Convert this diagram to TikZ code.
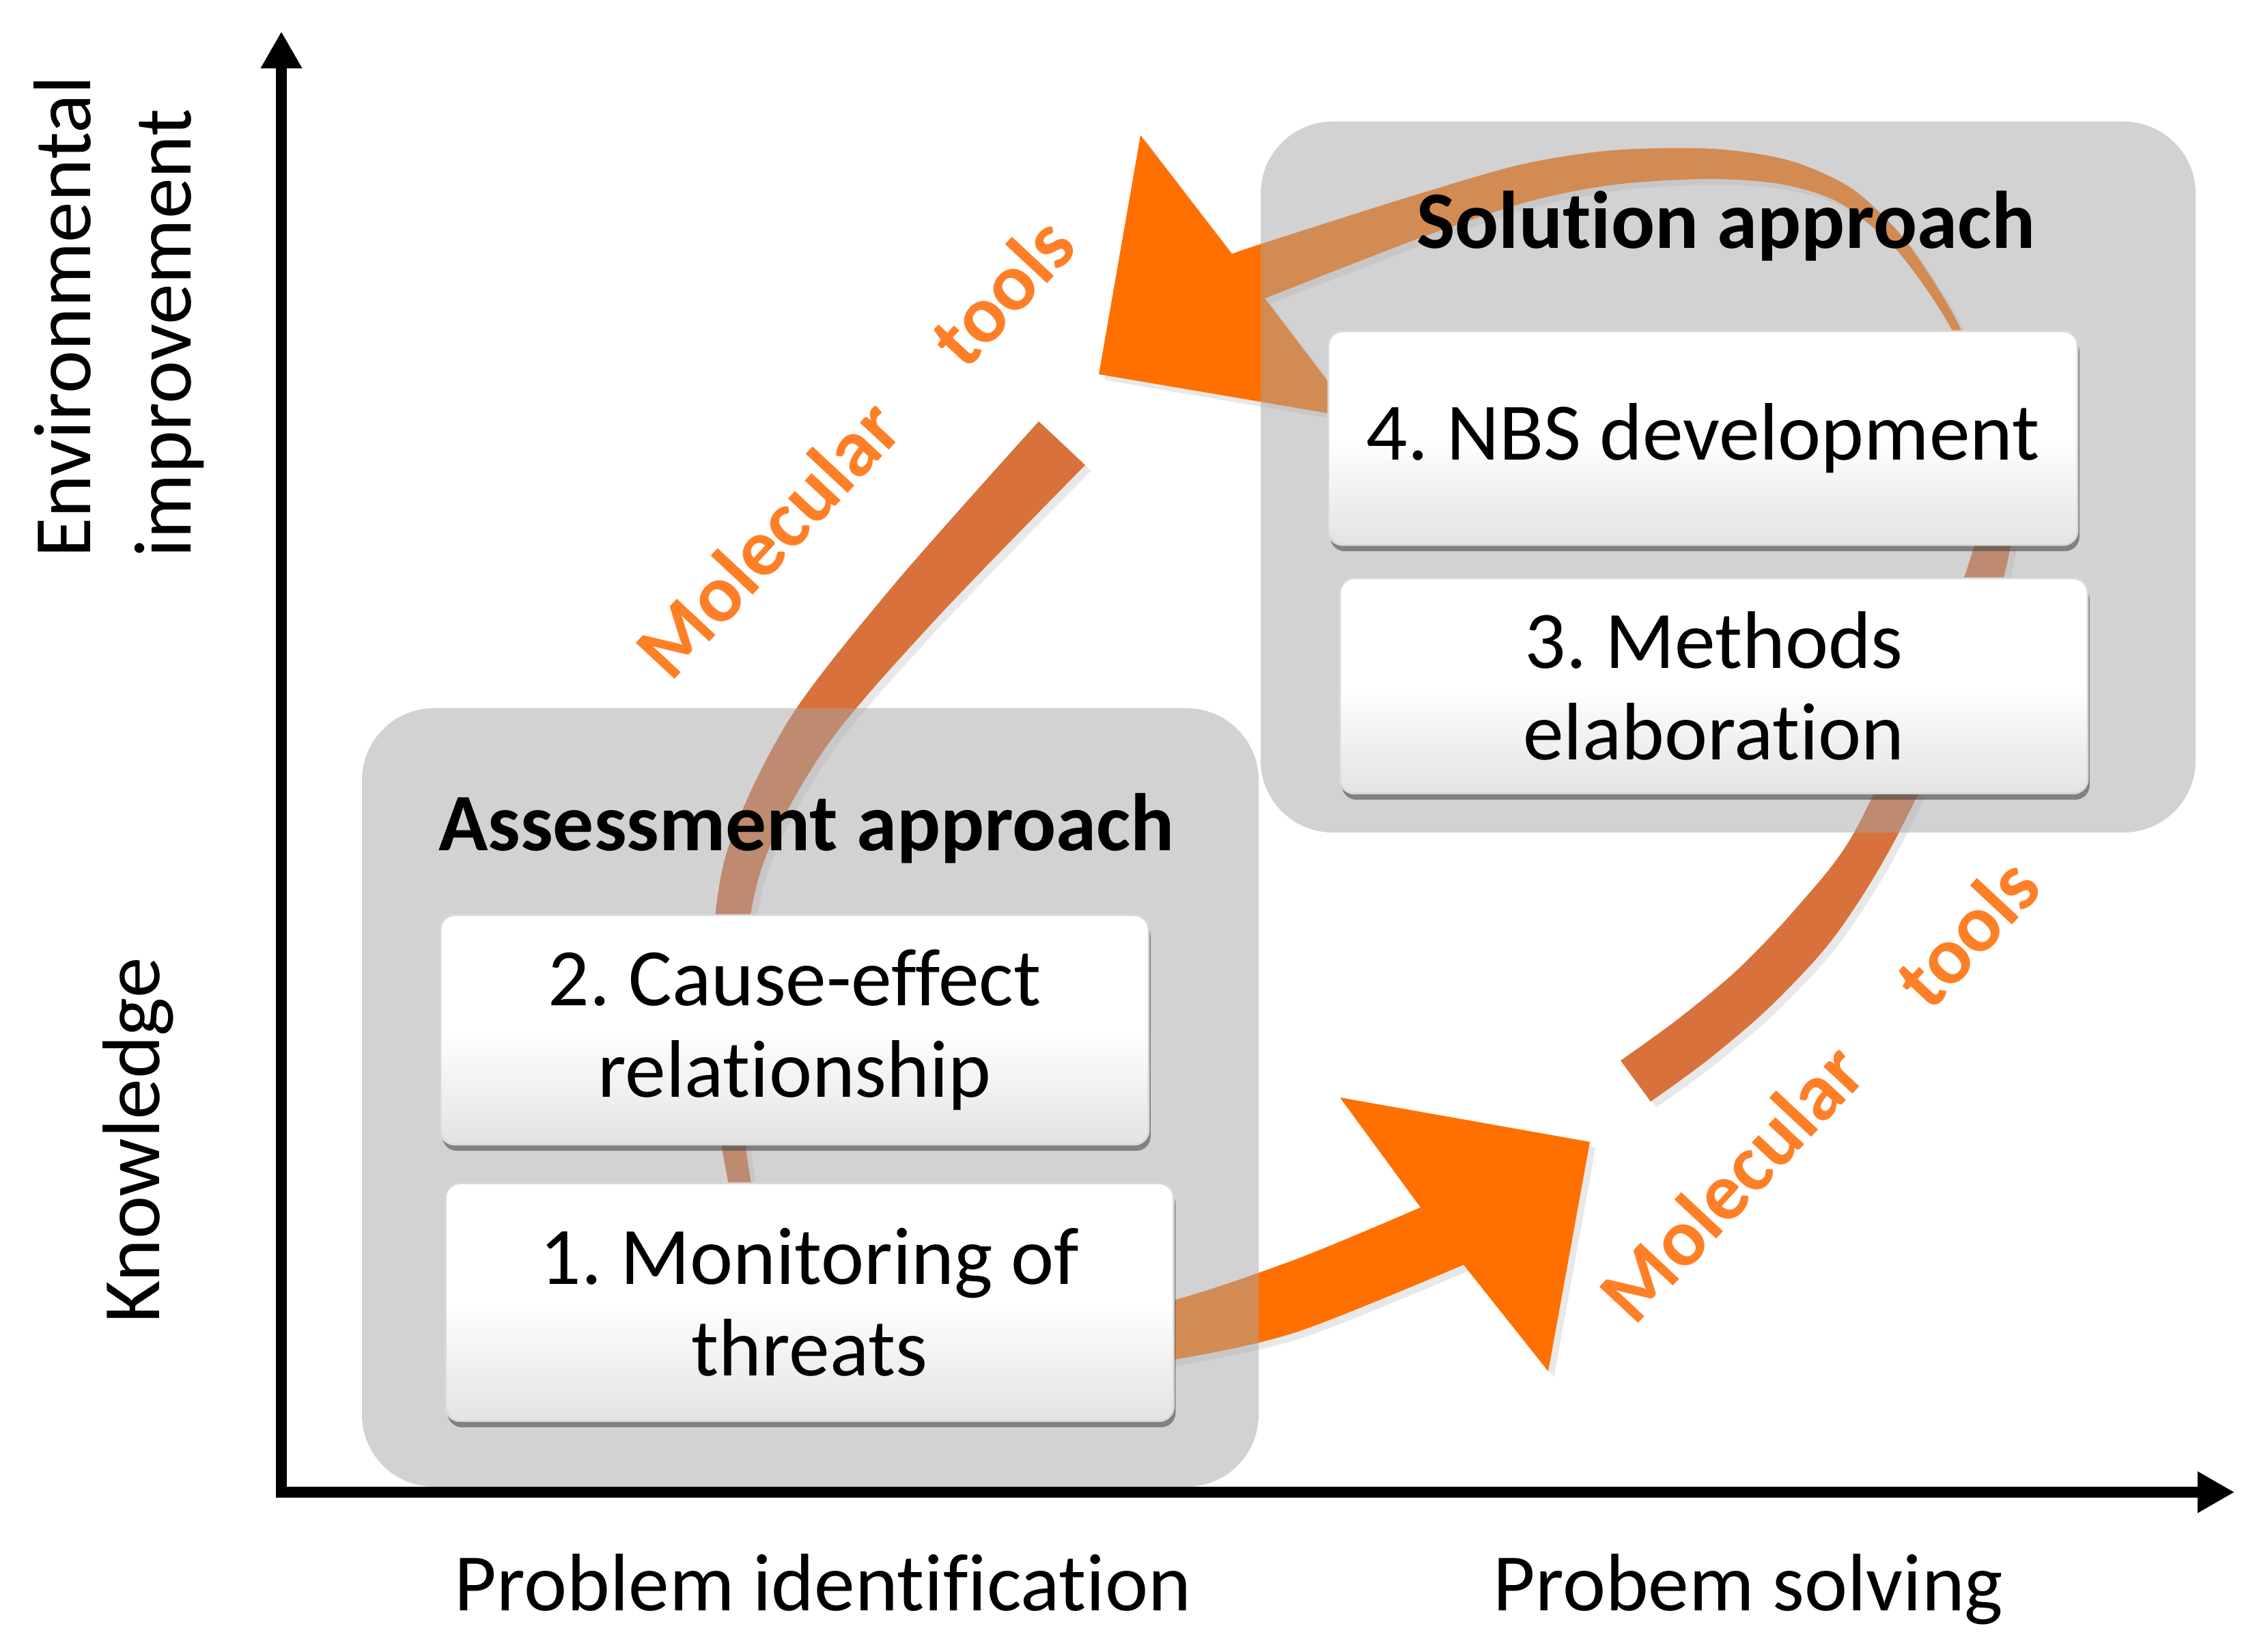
\documentclass[tikz,border=0pt]{standalone}
\usepackage{fontspec}
\setmainfont{Carlito}[Ligatures=NoCommon]
\usetikzlibrary{positioning, arrows.meta, shadows}
\frenchspacing

\definecolor{headorange}{RGB}{255,112,0}
\definecolor{arcorange}{RGB}{216,113,59}
\definecolor{toolorange}{RGB}{255,127,39}

\newcommand{\stageFont}{\fontsize{17}{19}\selectfont}

\tikzset{
  panelbox/.style={
    fill=black!35,
    fill opacity=0.5,
    rounded corners=15pt,
    inner sep=0pt,
  },
  stagebox/.style={
    draw=black!15,
    rounded corners=3pt,
    align=center,
    font=\stageFont,
    inner sep=0pt,
    top color=white, bottom color=black!11, middle color=white,
    drop shadow={shadow xshift=0.4pt, shadow yshift=-1.3pt, opacity=0.55, fill=black!75},
  },
  paneltitle/.style={font=\stageFont\bfseries, anchor=base},
  axislabel/.style={font=\stageFont, anchor=base},
  toollabel/.style={font=\stageFont\bfseries, text=toolorange, rotate=47, inner sep=0pt},
  axisline/.style={line width=2.4pt, {Triangle[length=7.7pt, width=8.1pt]}-{Triangle[length=7.7pt, width=8.1pt]}},
  % orange shapes: bright = arrows, muted = tapered arcs
  headshape/.style={fill=headorange, drop shadow={opacity=0.18, shadow xshift=1.2pt, shadow yshift=-1.2pt}},
  arcshape/.style={fill=arcorange, drop shadow={opacity=0.18, shadow xshift=1.2pt, shadow yshift=-1.2pt}},
}

\begin{document}
\begin{tikzpicture}[x=0.5cm, y=0.5cm]
  \useasboundingbox (0,0) rectangle (33.21,24.18);

  % axes
  \coordinate (origin) at (4.12,2.33);
  \coordinate (ytop) at (4.12,23.72);
  \coordinate (xend) at (32.72,2.33);
  \draw[axisline] (ytop) -- (origin) -- (xend);

  % tapered arcs
  \fill[arcshape] plot[smooth] coordinates {(15.21,18.01) (13.10,15.63) (11.54,13.62) (10.61,11.59) (10.36,9.21) (10.50,7.79) (10.80,6.15)}
    -- plot[smooth] coordinates {(11.10,6.21) (10.86,7.83) (10.79,9.22) (11.14,11.43) (12.10,13.25) (13.69,15.10) (15.89,17.37)} -- cycle;
  \fill[arcshape] plot[smooth] coordinates {(24.17,8.05) (25.02,8.67) (25.93,9.45) (26.85,10.45) (27.71,11.81) (28.79,14.07) (29.38,15.89) (29.50,17.17) (29.32,18.58) (29.05,19.18)}
    -- plot[smooth] coordinates {(29.08,18.58) (29.10,17.19) (28.86,16.03) (28.21,14.29) (27.15,11.99) (26.29,10.87) (25.43,9.97) (24.56,9.25) (23.73,8.65)} -- cycle;

  % big arrows
  \fill[headshape] plot[smooth] coordinates {(28.95,18.58) (28.72,19.34) (28.30,20.08) (27.80,20.78) (27.10,21.43) (26.20,21.83) (25.09,22.00) (23.63,21.98) (22.27,21.77) (20.58,21.28) (18.41,20.59) (18.04,20.46)}
    -- (16.70,22.20) -- (16.09,18.70) -- (19.85,18.06)
    -- plot[smooth] coordinates {(18.52,19.81) (20.75,20.68) (22.39,21.23) (23.67,21.48) (25.06,21.56) (26.10,21.48) (26.92,21.22) (27.65,20.65) (28.17,20.00) (28.61,19.29) (28.85,18.57)} -- cycle;
  \fill[headshape] plot[smooth] coordinates {(15.50,4.83) (17.18,5.14) (19.00,5.75) (20.80,6.50)}
    -- (19.62,8.11) -- (23.28,7.46) -- (22.67,4.10)
    -- plot[smooth] coordinates {(21.43,5.66) (19.00,4.68) (17.18,4.27) (15.50,4.08)} -- cycle;

  % panels
  \node[panelbox, minimum width=6.565cm, minimum height=5.70cm] (assess) at (11.865,8.11) {};
  \node[panelbox, minimum width=6.845cm, minimum height=5.205cm] (solve) at (25.305,17.195) {};

  \node[paneltitle] (assesstitle) at (11.81,11.73) {Assessment approach};
  \node[paneltitle] (solvetitle) at (25.27,20.54) {Solution approach};

  \node[stagebox, minimum width=5.185cm, minimum height=1.68cm] (cause) at (11.635,9.10) {2. Cause-effect\\relationship};
  \node[stagebox, minimum width=5.33cm, minimum height=1.74cm, below=2.7mm of cause, xshift=1.1mm] (monitor) {1. Monitoring of\\threats};
  \node[stagebox, minimum width=5.485cm, minimum height=1.565cm] (nbs) at (24.935,17.765) {4. NBS development};
  \node[stagebox, minimum width=5.475cm, minimum height=1.575cm, below=2.3mm of nbs, xshift=0.8mm] (methods) {3. Methods\\elaboration};

  \node[toollabel] (molA) at (11.24,16.30) {Molecular};
  \node[toollabel] (toolsA) at (14.67,19.92) {tools};
  \node[toollabel] (molB) at (25.35,6.87) {Molecular};
  \node[toollabel] (toolsB) at (28.80,10.53) {tools};

  % axis labels
  \node[axislabel] (xlabA) at (12.05,0.60) {Problem identification};
  \node[axislabel] (xlabB) at (25.60,0.60) {Probem solving};
  \node[font=\fontsize{17}{21}\selectfont, rotate=90, anchor=north west, align=left, inner sep=0pt] (ylabA) at (0.48,16.00) {Environmental\\improvement};
  \node[axislabel, rotate=90] (ylabB) at (2.34,7.48) {Knowledge};
\end{tikzpicture}
\end{document}
